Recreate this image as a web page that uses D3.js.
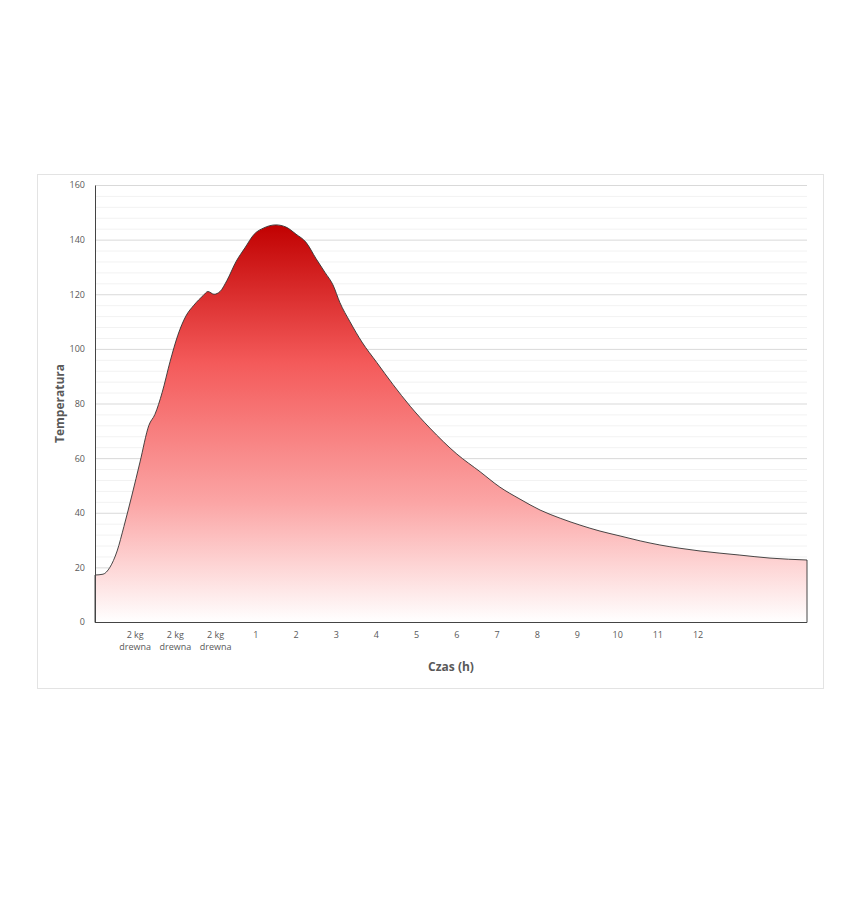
<!DOCTYPE html>
<html lang="pl">
<head>
<meta charset="utf-8">
<title>Temperatura</title>
<style>body{margin:0;background:#fff;font-family:"Open Sans",sans-serif;}</style>
</head>
<body>
<svg width="846" height="900"></svg>
<script src="https://d3js.org/d3.v7.min.js"></script>
<script>
// x positions in category units (one unit = one label slot)
var pos = [0,0.2,0.37,0.55,0.72,0.92,1.12,1.34,1.49,1.67,1.87,2.06,2.26,2.46,2.69,2.81,2.96,3.11,3.28,3.51,3.73,3.96,4.2,4.5,4.75,5.0,5.25,5.5,5.72,5.92,6.09,6.34,6.64,7.01,7.41,7.84,8.33,9.0,9.58,10.07,10.57,11.07,11.57,12.06,12.56,13.06,13.56,14.05,14.55,15.05,16.04,16.79,17.71];
var temp = [17.2,17.5,20,26,35,46.5,58.6,72,76,84,95.5,105,112,116,119.5,121,120,121,125,132,137,142,144.3,145.4,144.6,142,139,133,128,123.4,117,110,102.5,95,87,79,71,61.5,55,49.4,45,41,38,35.5,33.3,31.5,29.7,28.2,27,26,24.5,23.4,22.7];
var tickLabels = [["2 kg","drewna"],["2 kg","drewna"],["2 kg","drewna"],["1"],["2"],["3"],["4"],["5"],["6"],["7"],["8"],["9"],["10"],["11"],["12"]];

var svg = d3.select("svg"),
    margin = {top: 185, left: 95, right: 39, bottom: 278},
    width = 846 - margin.left - margin.right,
    height = 900 - margin.top - margin.bottom;

svg.append("rect").attr("x", 37.5).attr("y", 174.5).attr("width", 786).attr("height", 514)
    .attr("fill", "#fff").attr("stroke", "#e3e3e3");

var g = svg.append("g").attr("transform", "translate(" + margin.left + "," + margin.top + ")");

var x = d3.scaleLinear().domain([0, 17.71]).range([0, width]);
var y = d3.scaleLinear().domain([0, 160]).range([height, 0]);

// minor grid
g.append("g").selectAll("line").data(d3.range(0, 161, 4).filter(function(d){ return d % 20; }))
  .join("line").attr("x1", 0).attr("x2", width)
  .attr("y1", function(d){ return y(d) + 0.5; }).attr("y2", function(d){ return y(d) + 0.5; })
  .attr("stroke", "#f2f2f2");
// major grid
g.append("g").selectAll("line").data(d3.range(20, 161, 20))
  .join("line").attr("x1", 0).attr("x2", width)
  .attr("y1", function(d){ return y(d) + 0.5; }).attr("y2", function(d){ return y(d) + 0.5; })
  .attr("stroke", "#d9d9d9");

var grad = svg.append("defs").append("linearGradient").attr("id", "fill")
  .attr("gradientUnits", "userSpaceOnUse").attr("x1", 0).attr("x2", 0)
  .attr("y1", y(146)).attr("y2", y(0));
grad.append("stop").attr("offset", "0").attr("stop-color", "#c00000");
grad.append("stop").attr("offset", "0.35").attr("stop-color", "#f45a5a");
grad.append("stop").attr("offset", "0.7").attr("stop-color", "#fba5a5");
grad.append("stop").attr("offset", "1").attr("stop-color", "#ffffff");

var data = pos.map(function(p, i){ return {p: p, t: temp[i]}; });

g.append("path").datum(data)
  .attr("fill", "url(#fill)")
  .attr("stroke", "#333").attr("stroke-width", 0.9).attr("stroke-linejoin", "round")
  .attr("d", d3.area().curve(d3.curveMonotoneX)
    .x(function(d){ return x(d.p); }).y0(height + 0.5).y1(function(d){ return y(d.t); }));

// axes
var yAxis = g.append("g").call(d3.axisLeft(y).tickValues(d3.range(0, 161, 20)).tickSize(0).tickPadding(10));
yAxis.select(".domain").attr("stroke", "#444");
yAxis.selectAll("text").attr("fill", "#595959").attr("font-size", 9).attr("font-family", "Open Sans");

g.append("line").attr("x1", 0).attr("x2", width).attr("y1", height + 0.5).attr("y2", height + 0.5).attr("stroke", "#444");

var xt = g.append("g").selectAll("text").data(tickLabels).join("text")
  .attr("x", function(d, i){ return x(i + 1); })
  .attr("y", height + 16)
  .attr("text-anchor", "middle").attr("fill", "#595959").attr("font-size", 9);
xt.selectAll("tspan").data(function(d){ return d; }).join("tspan")
  .attr("x", function(){ return d3.select(this.parentNode).attr("x"); })
  .attr("dy", function(d, i){ return i ? 12 : 0; })
  .text(function(d){ return d; });

svg.append("text").attr("transform", "translate(64," + (margin.top + height / 2) + ") rotate(-90)")
  .attr("text-anchor", "middle").attr("font-size", 12).attr("font-weight", "bold").attr("fill", "#595959")
  .text("Temperatura");
svg.append("text").attr("x", 451).attr("y", 671).attr("text-anchor", "middle")
  .attr("font-size", 12).attr("font-weight", "bold").attr("fill", "#595959").text("Czas (h)");
</script>
</body>
</html>
